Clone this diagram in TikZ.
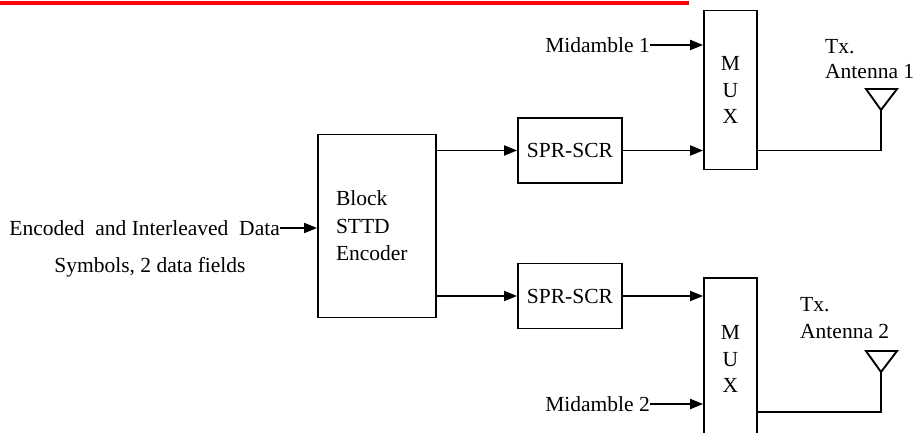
\documentclass[tikz,border=0pt]{standalone}
\usepackage{fontspec}
\setmainfont{Liberation Serif}
\usetikzlibrary{arrows.meta}

\begin{document}
\begin{tikzpicture}[x=1pt, y=-1pt, font=\fontsize{21.5}{26.5}\selectfont,
        box/.style={draw, line width=1.8pt, inner sep=0pt},
        wire/.style={line width=1.9pt},
        arr/.style={wire, -{Triangle[length=13pt, width=10pt]}}]
        \useasboundingbox (0,0) rectangle (916,433);
        \clip (0,0) rectangle (916,433);
        \draw [red, line width=4pt] (0,3.5) -- (689,3.5);
        % encoder
        \node [box, minimum width=118, minimum height=183, text width=82, align=left, font=\fontsize{21.5}{27.5}\selectfont] (blk) at (377,226) {Block\\STTD\\Encoder};
        \node [anchor=east, inner sep=0pt] (inp) at (280,228) {Encoded\ \ and Interleaved\ \ Data};
        \node [inner sep=0pt] (sym) at (150,267) {Symbols, 2 data fields};
        % spreaders
        \node [box, minimum width=104, minimum height=65] (spr1) at (570,150.5) {SPR-SCR};
        \node [box, minimum width=104, minimum height=65] (spr2) at (570,296) {SPR-SCR};
        % multiplexers
        \node [box, minimum width=53, minimum height=159, align=center] (mux1) at (730.5,90) {M\\U\\X};
        \node [box, minimum width=53, minimum height=162, align=center] (mux2) at (730.5,359) {M\\U\\X};
        \node [anchor=east, inner sep=0pt] (mid1) at (650,45) {Midamble 1};
        \node [anchor=east, inner sep=0pt] (mid2) at (650,404) {Midamble 2};
        % antennas
        \coordinate (ant1) at (881,110);
        \coordinate (ant2) at (881,372);
        \node [anchor=north west, inner sep=0pt, align=left, font=\fontsize{21.5}{25.5}\selectfont] (tx1) at (825,39) {Tx.\\Antenna 1};
        \node [anchor=north west, inner sep=0pt, align=left, font=\fontsize{21.5}{27}\selectfont] (tx2) at (800,297) {Tx.\\Antenna 2};
        \draw [wire, line join=miter] (ant1) -- ++(-15,-21) -- ++(31,0) -- cycle;
        \draw [wire, line join=miter] (ant2) -- ++(-15,-21) -- ++(31,0) -- cycle;
        % connectors
        \draw [arr] (inp.east) -- (blk.west |- inp.east);
        \draw [arr] (blk.east |- spr1.west) -- (spr1.west);
        \draw [arr] (blk.east |- spr2.west) -- (spr2.west);
        \draw [arr] (spr1.east) -- (mux1.west |- spr1.east);
        \draw [arr] (spr2.east) -- (mux2.west |- spr2.east);
        \draw [arr] (mid1.east) -- (mux1.west |- mid1.east);
        \draw [arr] (mid2.east) -- (mux2.west |- mid2.east);
        \draw [wire] (mux1.east |- spr1.east) -| (ant1);
        \draw [wire] (mux2.east |- 0,412) -| (ant2);
    \end{tikzpicture}
\end{document}
